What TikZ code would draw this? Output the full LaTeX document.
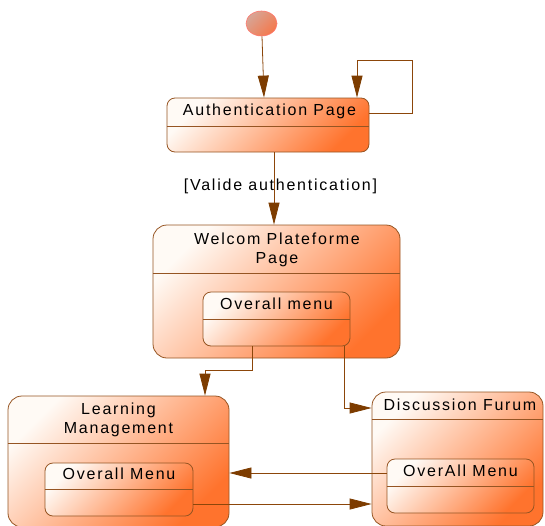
\documentclass[tikz,border=0pt]{standalone}
\usepackage{fontspec}
\usetikzlibrary{arrows.meta,shapes.geometric}
\newfontfamily\diafont[LetterSpace=11]{Liberation Sans}
\definecolor{edgebrown}{RGB}{150,85,35}
\definecolor{linebrown}{RGB}{140,70,10}
\definecolor{headbrown}{RGB}{125,60,0}
\definecolor{boxorange}{RGB}{255,115,45}
\definecolor{boxmid}{RGB}{255,172,130}
\definecolor{boxlight}{RGB}{255,250,245}
\begin{document}
\begin{tikzpicture}[x=1pt,y=-1pt,
  sbox/.style={draw=edgebrown, line width=0.8pt, shading=axis, top color=boxlight,
    middle color=boxmid, bottom color=boxorange, shading angle=45, inner sep=0pt, rectangle},
  divider/.style={draw=edgebrown, line width=0.8pt},
  txtbase/.style={font=\diafont\fontsize{16}{18.5}\selectfont, inner sep=0pt, align=center},
  txt/.style={txtbase, text height=11.5pt, text depth=3pt},
  conn/.style={draw=linebrown, line width=0.8pt},
  arr/.style={conn, -{Triangle[length=22pt,width=11pt,fill=headbrown,color=headbrown]}},
]
\useasboundingbox (0,0) rectangle (545,525);

% initial state
\node[ellipse, draw={rgb,255:red,255;green,120;blue,110}, line width=0.6pt,
  minimum width=31pt, minimum height=25pt, inner sep=0pt, shading=axis,
  top color={rgb,255:red,215;green,165;blue,150}, bottom color={rgb,255:red,245;green,120;blue,75},
  shading angle=45] (init) at (261.5,23.5) {};

% Authentication Page
\node[sbox, rounded corners=8pt, minimum width=202pt, minimum height=54pt] (auth) at (268,125) {};
\draw[divider] (auth.west |- 0,126) -- (auth.east |- 0,126);
\node[txt] (authT) at (269.5,111) {Authentication Page};

% Welcome
\node[sbox, rounded corners=14pt, minimum width=247pt, minimum height=133pt] (wel) at (276.5,291.5) {};
\draw[divider] (wel.west |- 0,273) -- (wel.east |- 0,273);
\node[txtbase] (welT) at (277,250) {Welcom Plateforme\\Page};
\node[sbox, rounded corners=8pt, minimum width=147pt, minimum height=54pt] (welIn) at (276.5,319) {};
\draw[divider] (welIn.west |- 0,319) -- (welIn.east |- 0,319);
\node[txt] (welInT) at (276.5,305) {Overall menu};

% Learning Management
\node[sbox, rounded corners=14pt, minimum width=221pt, minimum height=131pt] (lm) at (118.5,461.5) {};
\draw[divider] (lm.west |- 0,443) -- (lm.east |- 0,443);
\node[txtbase] (lmT) at (118.5,420) {Learning\\Management};
\node[sbox, rounded corners=8pt, minimum width=148pt, minimum height=53pt] (lmIn) at (119,489.5) {};
\draw[divider] (lmIn.west |- 0,489) -- (lmIn.east |- 0,489);
\node[txt] (lmInT) at (119,475) {Overall Menu};

% Discussion Furum
\node[sbox, rounded corners=14pt, minimum width=171pt, minimum height=134pt] (df) at (457.5,459) {};
\draw[divider] (df.west |- 0,419) -- (df.east |- 0,419);
\node[txt] (dfT) at (460,406) {Discussion Furum};
\node[sbox, rounded corners=8pt, minimum width=147pt, minimum height=54pt] (dfIn) at (460.5,486) {};
\draw[divider] (dfIn.west |- 0,486) -- (dfIn.east |- 0,486);
\node[txt] (dfInT) at (460.5,472) {OverAll Menu};

% connectors
\coordinate (loopA) at (412,113);
\coordinate (loopB) at (412,60);
\coordinate (loopC) at (357,60);
\draw[arr] ([xshift=0.5pt]init.south) -- (auth.north -| 264,0);
\draw[arr] (auth.east |- loopA) -- (loopA) -- (loopB) -- (loopC) -- (auth.north -| loopC);
\draw[arr] (auth.south -| 274,0) -- (wel.north -| 274,0);
\node[txt] (lbl) at (280.5,186) {[Valide authentication]};
\draw[arr] (welIn.south -| 252,0) -- (252,370) -- (205,370) -- (lm.north -| 205,0);
\draw[arr] (welIn.south -| 344,0) -- (344,408) -- (df.west |- 0,408);
\draw[arr] (dfIn.west |- 0,473) -- (lm.east |- 0,473);
\draw[arr] (lmIn.east |- 0,504) -- (df.west |- 0,504);
\end{tikzpicture}
\end{document}
